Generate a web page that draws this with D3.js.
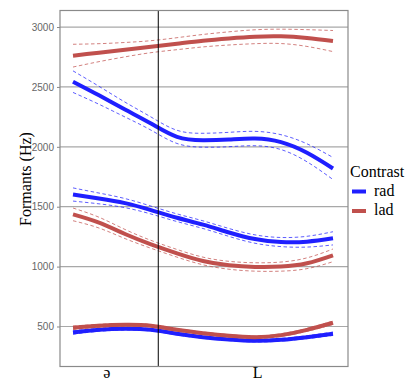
<!DOCTYPE html>
<meta charset="utf-8">
<style>
    body { margin: 0; background: #fff; }
    .tick-label { font: 10px "Liberation Sans", Arial, sans-serif; fill: #666; }
    .serif { font-family: "Liberation Serif", "Times New Roman", serif; fill: #000; }
</style>
<body>
<script src="https://cdn.jsdelivr.net/npm/d3@7"></script>
<script>

    // normalised time (0-100) along the /əL/ sequence
    var times = [0, 10, 20, 30, 40, 50, 60, 70, 80, 90, 100];

    // formant tracks, Hz
    var radF1 = [450, 472, 481, 472, 439, 411, 392, 381, 389, 411, 439],
        radF2 = [1602, 1569, 1530, 1472, 1408, 1350, 1285, 1230, 1205, 1208, 1236],
        radF3 = [2544, 2430, 2311, 2194, 2083, 2055, 2061, 2069, 2039, 1950, 1819],
        ladF1 = [489, 506, 514, 506, 472, 444, 422, 411, 428, 472, 531],
        ladF2 = [1436, 1367, 1272, 1186, 1111, 1047, 1011, 997, 1000, 1028, 1094],
        ladF3 = [2761, 2786, 2811, 2836, 2861, 2886, 2905, 2919, 2922, 2908, 2883];

    // confidence band half-widths, Hz
    var radF1se = [14, 12, 11, 10, 10, 10, 10, 10, 11, 12, 14],
        radF2se = [55, 45, 38, 33, 32, 32, 33, 35, 38, 45, 55],
        radF3se = [90, 75, 62, 55, 55, 58, 60, 60, 62, 75, 92],
        ladF1se = [14, 12, 11, 10, 10, 10, 10, 10, 11, 12, 14],
        ladF2se = [53, 45, 38, 33, 32, 32, 33, 35, 38, 45, 53],
        ladF3se = [95, 75, 60, 50, 50, 52, 55, 58, 60, 70, 88];

    var yTicks = [500, 1000, 1500, 2000, 2500, 3000];
    var segLabels = ["ə", "L"],
        segCentres = [13, 71],
        boundary = 32.8;

    var contrasts = ["rad", "lad"];
    var color = d3.scaleOrdinal().domain(contrasts).range(["#1f1fff", "#c0504d"]);

    var series = [
        {contrast: "rad", mean: radF1, se: radF1se},
        {contrast: "rad", mean: radF2, se: radF2se},
        {contrast: "rad", mean: radF3, se: radF3se},
        {contrast: "lad", mean: ladF1, se: ladF1se},
        {contrast: "lad", mean: ladF2, se: ladF2se},
        {contrast: "lad", mean: ladF3, se: ladF3se}
    ];

    var width = 409, height = 382;
    var panel = {left: 60, right: 348, top: 10.5, bottom: 366.5};

    var x = d3.scaleLinear().domain([-5, 105.77]).range([panel.left, panel.right]);
    var y = d3.scaleLinear().domain([166, 3138]).range([panel.bottom, panel.top]);

    var svg = d3.select("body").append("svg")
        .attr("width", width)
        .attr("height", height);

    // grid
    svg.append("g").selectAll("line")
        .data(yTicks)
        .enter().append("line")
        .attr("x1", panel.left).attr("x2", panel.right)
        .attr("y1", function(d) { return y(d); })
        .attr("y2", function(d) { return y(d); })
        .attr("stroke", "#a8a8a8")
        .attr("stroke-width", 1.2);

    // y axis
    var yAxis = svg.append("g")
        .attr("transform", "translate(" + panel.left + ",0)")
        .call(d3.axisLeft(y).tickValues(yTicks).tickSize(3).tickPadding(3).tickFormat(d3.format("d")));
    yAxis.select(".domain").remove();
    yAxis.selectAll(".tick line").attr("stroke", "#888");
    yAxis.selectAll(".tick text").attr("class", "tick-label").attr("fill", null);

    // x labels (segments)
    svg.append("g").selectAll("text")
        .data(segLabels)
        .enter().append("text")
        .attr("class", "serif")
        .attr("x", function(d, i) { return x(segCentres[i]); })
        .attr("y", 378)
        .attr("text-anchor", "middle")
        .style("font-size", "16px")
        .text(function(d) { return d; });

    // confidence bands (dashed)
    var line = d3.line()
        .x(function(d, i) { return x(times[i]); })
        .y(function(d) { return y(d); })
        .curve(d3.curveNatural);

    var bands = svg.append("g");
    series.forEach(function(s) {
        [1, -1].forEach(function(sign) {
            bands.append("path")
                .datum(s.mean.map(function(v, i) { return v + sign * s.se[i]; }))
                .attr("d", line)
                .attr("fill", "none")
                .attr("stroke", color(s.contrast))
                .attr("stroke-width", 0.8)
                .attr("stroke-dasharray", "3.5,2.5")
                .attr("opacity", 0.9);
        });
    });

    // mean tracks
    svg.append("g").selectAll("path")
        .data(series)
        .enter().append("path")
        .attr("d", function(d) { return line(d.mean); })
        .attr("fill", "none")
        .attr("stroke", function(d) { return color(d.contrast); })
        .attr("stroke-width", 4)
        .attr("stroke-linecap", "butt");

    // segment boundary
    svg.append("line")
        .attr("x1", x(boundary)).attr("x2", x(boundary))
        .attr("y1", panel.top).attr("y2", panel.bottom)
        .attr("stroke", "#000")
        .attr("stroke-width", 1);

    // panel border
    svg.append("rect")
        .attr("x", panel.left).attr("y", panel.top)
        .attr("width", panel.right - panel.left)
        .attr("height", panel.bottom - panel.top)
        .attr("fill", "none")
        .attr("stroke", "#8a8a8a")
        .attr("stroke-width", 1.2);

    // y title
    svg.append("text")
        .attr("class", "serif")
        .attr("transform", "translate(31,179) rotate(-90)")
        .attr("text-anchor", "middle")
        .style("font-size", "16px")
        .text("Formants (Hz)");

    // legend
    var legend = svg.append("g").attr("transform", "translate(350,0)");
    legend.append("text")
        .attr("class", "serif")
        .attr("x", 0).attr("y", 177)
        .style("font-size", "16px")
        .text("Contrast");

    var item = legend.selectAll(".item")
        .data(contrasts)
        .enter().append("g")
        .attr("class", "item")
        .attr("transform", function(d, i) { return "translate(0," + (191.5 + i * 19.5) + ")"; });

    item.append("line")
        .attr("x1", 2).attr("x2", 16)
        .attr("stroke", function(d) { return color(d); })
        .attr("stroke-width", 4);

    item.append("text")
        .attr("class", "serif")
        .attr("x", 24).attr("y", 4)
        .style("font-size", "16px")
        .text(function(d) { return d; });

</script>
